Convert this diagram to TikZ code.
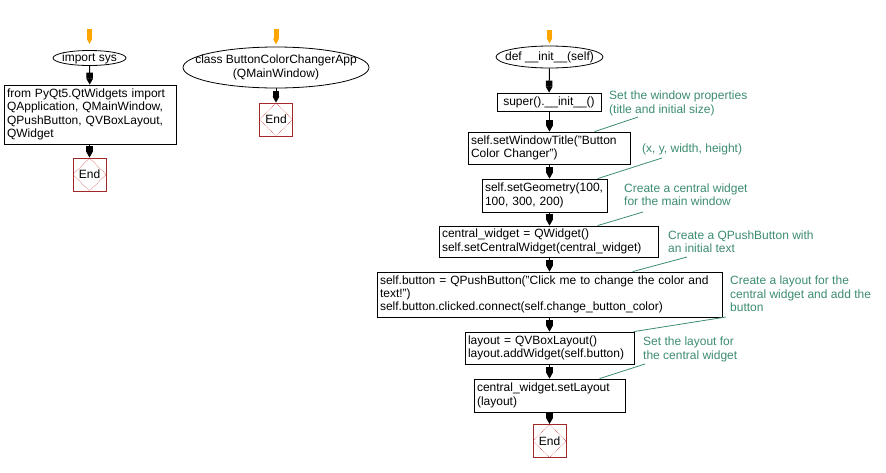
\documentclass[tikz,border=0pt]{standalone}
\usepackage{fontspec}
\setmainfont{Liberation Sans}
\usetikzlibrary{arrows.meta,shapes.geometric,calc}
\definecolor{cmt}{RGB}{60,140,110}
\definecolor{endsq}{RGB}{160,40,40}
\definecolor{enddia}{RGB}{210,60,60}
\definecolor{startor}{RGB}{255,165,0}
\begin{document}
\begin{tikzpicture}[x=1pt,y=-1pt,
  every node/.style={font=\fontsize{12}{13.3}\selectfont},
  codebox/.style={draw, line width=0.8pt, inner xsep=3pt, inner ysep=2pt, align=left},
  oval/.style={ellipse, draw, line width=0.8pt, inner sep=-60pt, align=center},
  endnode/.style={rectangle, draw=endsq, line width=0.9pt, minimum size=33pt, inner sep=0pt,
    path picture={\draw[enddia, line width=0.6pt, densely dotted]
      (path picture bounding box.north) -- (path picture bounding box.east) --
      (path picture bounding box.south) -- (path picture bounding box.west) -- cycle;}},
  flowarrow/.style={draw=black, line width=1pt,
    -{Rectangle[length=6pt,width=6.5pt]Triangle[length=6pt,width=6.5pt]}},
  startarrow/.style={draw=startor, line width=5pt, -{Triangle[length=6pt,width=5.5pt]}},
  comment/.style={text=cmt, align=left, anchor=north west, inner sep=0pt},
  cline/.style={draw=cmt, line width=0.8pt}
]
\useasboundingbox (0,0) rectangle (886,472);

% ---- column 1
\node[oval, minimum width=73pt, minimum height=15pt] (is) at (89.5,58) {import sys};
\node[codebox, text width=166pt, minimum height=59pt] (fr) at (90,114.5)
  {from PyQt5.QtWidgets import\\QApplication, QMainWindow,\\QPushButton, QVBoxLayout,\\QWidget};
\node[endnode] (e1) at (89.5,174.5) {End};
\coordinate (s1) at (89.5,29);
\draw[startarrow] (s1) -- ([yshift=6pt]is.north);
\draw[flowarrow] (is) -- (fr);
\draw[flowarrow] (fr.south -| e1) -- (e1);

% ---- column 2
\node[oval, minimum width=186pt, minimum height=41pt] (cls) at (276,67.5)
  {class ButtonColorChangerApp\\(QMainWindow)};
\node[endnode] (e2) at (276,119.5) {End};
\coordinate (s2) at (276,29);
\draw[startarrow] (s2) -- ([yshift=2pt]cls.north);
\draw[flowarrow] (cls) -- (e2);

% ---- column 3
\node[oval, minimum width=107pt, minimum height=22pt] (init) at (549.5,57) {def \_\_init\_\_(self)};
\node[codebox, align=center, text width=98pt, minimum height=18pt] (sup) at (549,102) {super().\_\_init\_\_()};
\node[codebox, text width=156pt, minimum height=32pt] (swt) at (549,148)
  {self.setWindowTitle("Button\\Color Changer")};
\node[codebox, text width=119pt, minimum height=33pt] (sg) at (544.5,195.5)
  {self.setGeometry(100,\\100, 300, 200)};
\node[codebox, text width=213pt, minimum height=31pt] (cw) at (548.5,241.5)
  {central\_widget = QWidget()\\self.setCentralWidget(central\_widget)};
\node[codebox, text width=339pt, minimum height=45pt] (btn) at (549.5,294.5)
  {self.button = QPushButton("Click me to change the color and\\text!")\\self.button.clicked.connect(self.change\_button\_color)};
\node[codebox, text width=163pt, minimum height=32pt] (lay) at (549.5,348)
  {layout = QVBoxLayout()\\layout.addWidget(self.button)};
\node[codebox, text width=145pt, minimum height=33pt] (sl) at (549.5,395.5)
  {central\_widget.setLayout\\(layout)};
\node[endnode] (e3) at (549.5,441) {End};

\coordinate (s3) at (549.5,30);
\draw[startarrow] (s3) -- ([yshift=2pt]init.north);
\draw[flowarrow] (init) -- (sup);
\draw[flowarrow] (sup.south -| init) -- (swt.north -| init);
\draw[flowarrow] (swt.south -| init) -- (sg.north -| init);
\draw[flowarrow] (sg.south -| init) -- (cw.north -| init);
\draw[flowarrow] (cw.south -| init) -- (btn.north -| init);
\draw[flowarrow] (btn.south -| init) -- (lay.north -| init);
\draw[flowarrow] (lay.south -| init) -- (sl.north -| init);
\draw[flowarrow] (sl.south -| init) -- (e3.north -| init);

% ---- comments
\node[comment] (c1) at (609,91) {Set the window properties\\(title and initial size)};
\node[comment] (c2) at (642,144) {(x, y, width, height)};
\node[comment] (c3) at (624,183.5) {Create a central widget\\for the main window};
\node[comment] (c4) at (668,230.5) {Create a QPushButton with\\an initial text};
\node[comment] (c5) at (730,276) {Create a layout for the\\central widget and add the\\button};
\node[comment] (c6) at (643,337) {Set the layout for\\the central widget};

\coordinate (k1) at (638,117);
\coordinate (k2) at (662,158);
\coordinate (k3) at (643,212);
\coordinate (k4) at (687,257);
\coordinate (k5) at (726,317);
\coordinate (k6) at (645,364);
\draw[cline] (k1) -- ([xshift=127pt]swt.north west);
\draw[cline] (k2) -- ([xshift=116pt]sg.north west);
\draw[cline] (k3) -- ([xshift=159pt]cw.north west);
\draw[cline] (k4) -- ([xshift=256pt]btn.north west);
\draw[cline] (k5) -- ([xshift=169pt]lay.north west);
\draw[cline] (k6) -- ([xshift=126pt]sl.north west);
\end{tikzpicture}
\end{document}
